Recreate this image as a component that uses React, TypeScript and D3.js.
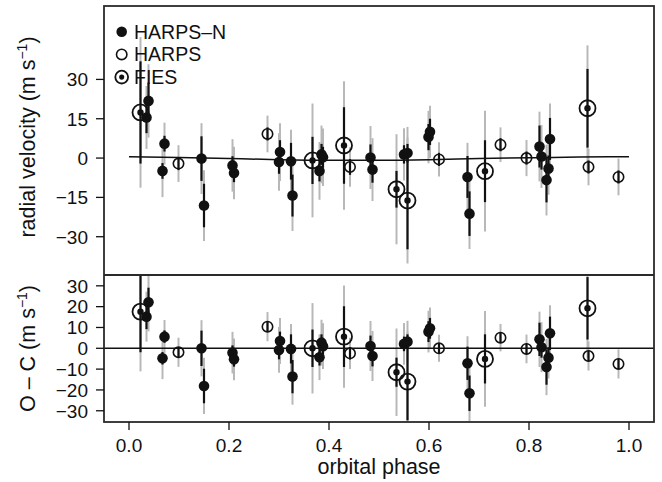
import React from "react";
import * as d3 from "d3";

// ---- Data ----
// HARPS-N (filled circles)
const harpsNPhase = [0.039, 0.035, 0.071, 0.067, 0.145, 0.150, 0.207, 0.210, 0.302, 0.300, 0.324, 0.327, 0.385, 0.381, 0.388, 0.483, 0.487, 0.550, 0.557, 0.599, 0.602, 0.677, 0.681, 0.821, 0.825, 0.842, 0.839, 0.835];
const harpsNRv = [21.8, 15.5, 5.5, -4.9, -0.2, -18.1, -2.8, -5.7, 2.3, -1.5, -1.2, -14.3, 1.4, -4.9, 0.3, 0.2, -4.4, 1.4, 1.9, 8.0, 10.0, -7.2, -21.2, 4.4, 0.6, 7.3, -4.0, -8.4];
const harpsNOc = [22.1, 15.2, 5.6, -4.8, 0.0, -18.1, -2.1, -5.3, 3.5, -0.8, -0.3, -13.6, 2.7, -4.3, 1.0, 1.1, -3.7, 2.1, 3.2, 8.0, 9.6, -7.2, -21.6, 4.3, 0.5, 7.2, -4.5, -9.0];
const harpsNErr = [7, 6, 3, 3, 8.5, 8.3, 3.5, 3.5, 4.5, 4.5, 7, 8, 4, 4, 4, 5, 5, 3.5, 3.5, 5, 5, 8, 8.5, 8, 5, 8, 5, 8.5];
const harpsNErrJit = [14, 12, 8, 10, 13.5, 13.5, 10, 10, 11, 11, 12, 13.5, 11, 11, 11, 12, 12, 10, 10, 10, 10, 13, 13.5, 13.3, 12, 13.5, 10, 13.5];

// HARPS (open circles)
const harpsPhase = [0.099, 0.277, 0.442, 0.620, 0.743, 0.795, 0.919, 0.979];
const harpsRv = [-2.1, 9.2, -3.4, -0.5, 5.1, 0.0, -3.4, -7.2];
const harpsOc = [-1.9, 10.4, -2.4, 0.0, 5.1, -0.3, -3.7, -7.5];
const harpsErr = [2.5, 2.5, 3, 2.5, 2.5, 2.5, 2.5, 2.5];
const harpsErrJit = [7, 7, 7.5, 6.5, 6.6, 6.9, 7, 7];

// FIES (ringed dots)
const fiesPhase = [0.023, 0.367, 0.430, 0.535, 0.557, 0.712, 0.917];
const fiesRv = [17.4, -0.9, 4.8, -11.9, -16.2, -5.0, 19.0];
const fiesOc = [17.6, 0.0, 5.6, -11.5, -16.0, -5.1, 19.2];
const fiesErr = [19.5, 9, 14.6, 7, 18.6, 11.8, 15];
const fiesErrJit = [28.7, 21.7, 24.5, 21, 24, 23, 24];

// Orbital model curve
const modelPhase = [0, 0.1, 0.2, 0.3, 0.4, 0.5, 0.6, 0.7, 0.8, 0.9, 1.0];
const modelRv = [0.5, 0.2, -0.2, -0.6, -0.8, -0.8, -0.6, -0.2, 0.1, 0.4, 0.5];

// Axis ticks
const xTicks = [0, 0.2, 0.4, 0.6, 0.8, 1.0];
const rvTicks = [30, 15, 0, -15, -30];
const ocTicks = [30, 20, 10, 0, -10, -20, -30];

type Pt = { p: number; v: number; e: number; ej: number; kind: string };

function build(ph: number[], v: number[], e: number[], ej: number[], kind: string): Pt[] {
  return ph.map((p, i) => ({ p, v: v[i], e: e[i], ej: ej[i], kind }));
}

const FONT = "'Liberation Sans', Arial, Helvetica, sans-serif";
const GRAY = "#b8b8b8";
const INK = "#111";

export default function App() {
  const L = 104, R = 654, T = 6, M = 275, B = 422;
  const x = d3.scaleLinear().domain([-0.05, 1.05]).range([L, R]);
  const yTop = d3.scaleLinear().domain([-44.6, 58.0]).range([M, T]);
  const yBot = d3.scaleLinear().domain([-35.4, 35.2]).range([B, M]);

  const topPts = [
    ...build(harpsNPhase, harpsNRv, harpsNErr, harpsNErrJit, "hn"),
    ...build(harpsPhase, harpsRv, harpsErr, harpsErrJit, "h"),
    ...build(fiesPhase, fiesRv, fiesErr, fiesErrJit, "f"),
  ];
  const botPts = [
    ...build(harpsNPhase, harpsNOc, harpsNErr, harpsNErrJit, "hn"),
    ...build(harpsPhase, harpsOc, harpsErr, harpsErrJit, "h"),
    ...build(fiesPhase, fiesOc, fiesErr, fiesErrJit, "f"),
  ];

  const line = d3
    .line<number>()
    .x((_, i) => x(modelPhase[i]))
    .y((d) => yTop(d))
    .curve(d3.curveMonotoneX);

  const marker = (d: Pt, cx: number, cy: number, key: string, scale = 1) => {
    if (d.kind === "hn")
      return <circle key={key} cx={cx} cy={cy} r={5.3 * scale} fill={INK} />;
    if (d.kind === "h")
      return <circle key={key} cx={cx} cy={cy} r={5.2 * scale} fill="none" stroke={INK} strokeWidth={1.6} />;
    return (
      <g key={key}>
        <circle cx={cx} cy={cy} r={8 * scale} fill="none" stroke={INK} strokeWidth={1.8} />
        <circle cx={cx} cy={cy} r={3.2 * scale} fill={INK} />
      </g>
    );
  };

  const panel = (pts: Pt[], y: d3.ScaleLinear<number, number>, clipId: string) => (
    <g clipPath={`url(#${clipId})`}>
      {pts.map((d, i) => (
        <line key={"g" + i} x1={x(d.p)} x2={x(d.p)} y1={y(d.v - d.ej)} y2={y(d.v + d.ej)} stroke={GRAY} strokeWidth={2} />
      ))}
      {pts.map((d, i) => (
        <line key={"b" + i} x1={x(d.p)} x2={x(d.p)} y1={y(d.v - d.e)} y2={y(d.v + d.e)} stroke={INK} strokeWidth={2.2} />
      ))}
    </g>
  );

  const pointsLayer = (pts: Pt[], y: d3.ScaleLinear<number, number>, clipId: string) => (
    <g clipPath={`url(#${clipId})`}>{pts.map((d, i) => marker(d, x(d.p), y(d.v), "m" + i))}</g>
  );

  const legend = [
    { kind: "hn", label: "HARPS\u2013N" },
    { kind: "h", label: "HARPS" },
    { kind: "f", label: "FIES" },
  ];

  const fmt = (t: number) => (t < 0 ? "\u2212" + Math.abs(t) : String(t));

  return (
    <svg width={662} height={482} style={{ position: "absolute", left: 0, top: 0, background: "#fff" }} fontFamily={FONT}>
      <defs>
        <clipPath id="clipTop">
          <rect x={L} y={T} width={R - L} height={M - T} />
        </clipPath>
        <clipPath id="clipBot">
          <rect x={L} y={M} width={R - L} height={B - M} />
        </clipPath>
      </defs>
      <rect x={0} y={0} width={662} height={482} fill="#fff" />

      {/* top panel */}
      {panel(topPts, yTop, "clipTop")}
      <path d={line(modelRv) || ""} fill="none" stroke={INK} strokeWidth={1.5} />
      {pointsLayer(topPts, yTop, "clipTop")}

      {/* bottom panel */}
      {panel(botPts, yBot, "clipBot")}
      <line x1={L} x2={R} y1={yBot(0)} y2={yBot(0)} stroke={INK} strokeWidth={1.5} />
      {pointsLayer(botPts, yBot, "clipBot")}

      {/* frames */}
      <rect x={L} y={T} width={R - L} height={B - T} fill="none" stroke="#2a2a2a" strokeWidth={1.8} />
      <line x1={L} x2={R} y1={M} y2={M} stroke="#2a2a2a" strokeWidth={1.8} />

      {/* y axis top */}
      {rvTicks.map((t) => (
        <g key={"rt" + t}>
          <line x1={L - 8} x2={L} y1={yTop(t)} y2={yTop(t)} stroke={INK} strokeWidth={1.3} />
          <text x={L - 16} y={yTop(t)} dy="0.36em" textAnchor="end" fontSize={19} fill={INK}>
            {fmt(t)}
          </text>
        </g>
      ))}
      {/* y axis bottom */}
      {ocTicks.map((t) => (
        <g key={"ot" + t}>
          <line x1={L - 8} x2={L} y1={yBot(t)} y2={yBot(t)} stroke={INK} strokeWidth={1.3} />
          <text x={L - 16} y={yBot(t)} dy="0.36em" textAnchor="end" fontSize={19} fill={INK}>
            {fmt(t)}
          </text>
        </g>
      ))}
      {/* x axis */}
      {xTicks.map((t) => (
        <g key={"xt" + t}>
          <line x1={x(t)} x2={x(t)} y1={B} y2={B + 8} stroke={INK} strokeWidth={1.3} />
          <text x={x(t)} y={452} textAnchor="middle" fontSize={19} fill={INK}>
            {t.toFixed(1)}
          </text>
        </g>
      ))}
      <text x={(L + R) / 2} y={474} textAnchor="middle" fontSize={21.5} fill={INK}>
        orbital phase
      </text>

      {/* y titles */}
      <text transform={`translate(35, 137) rotate(-90)`} textAnchor="middle" fontSize={21.5} fill={INK}>
        radial velocity (m s<tspan dy="-8" fontSize={14}>{"\u22121"}</tspan>
        <tspan dy="8">)</tspan>
      </text>
      <text transform={`translate(35, ${(M + B) / 2}) rotate(-90)`} textAnchor="middle" fontSize={21.5} fill={INK}>
        O {"\u2013"} C (m s<tspan dy="-8" fontSize={14}>{"\u22121"}</tspan>
        <tspan dy="8">)</tspan>
      </text>

      {/* legend */}
      {legend.map((lg, i) => {
        const cy = 31.7 + i * 22.7;
        return (
          <g key={"lg" + i}>
            {marker({ p: 0, v: 0, e: 0, ej: 0, kind: lg.kind }, 121.7, cy, "lm" + i, lg.kind === "f" ? 0.8 : 1)}
            <text x={134} y={cy} dy="0.36em" fontSize={19.5} fill={INK}>
              {lg.label}
            </text>
          </g>
        );
      })}
    </svg>
  );
}
